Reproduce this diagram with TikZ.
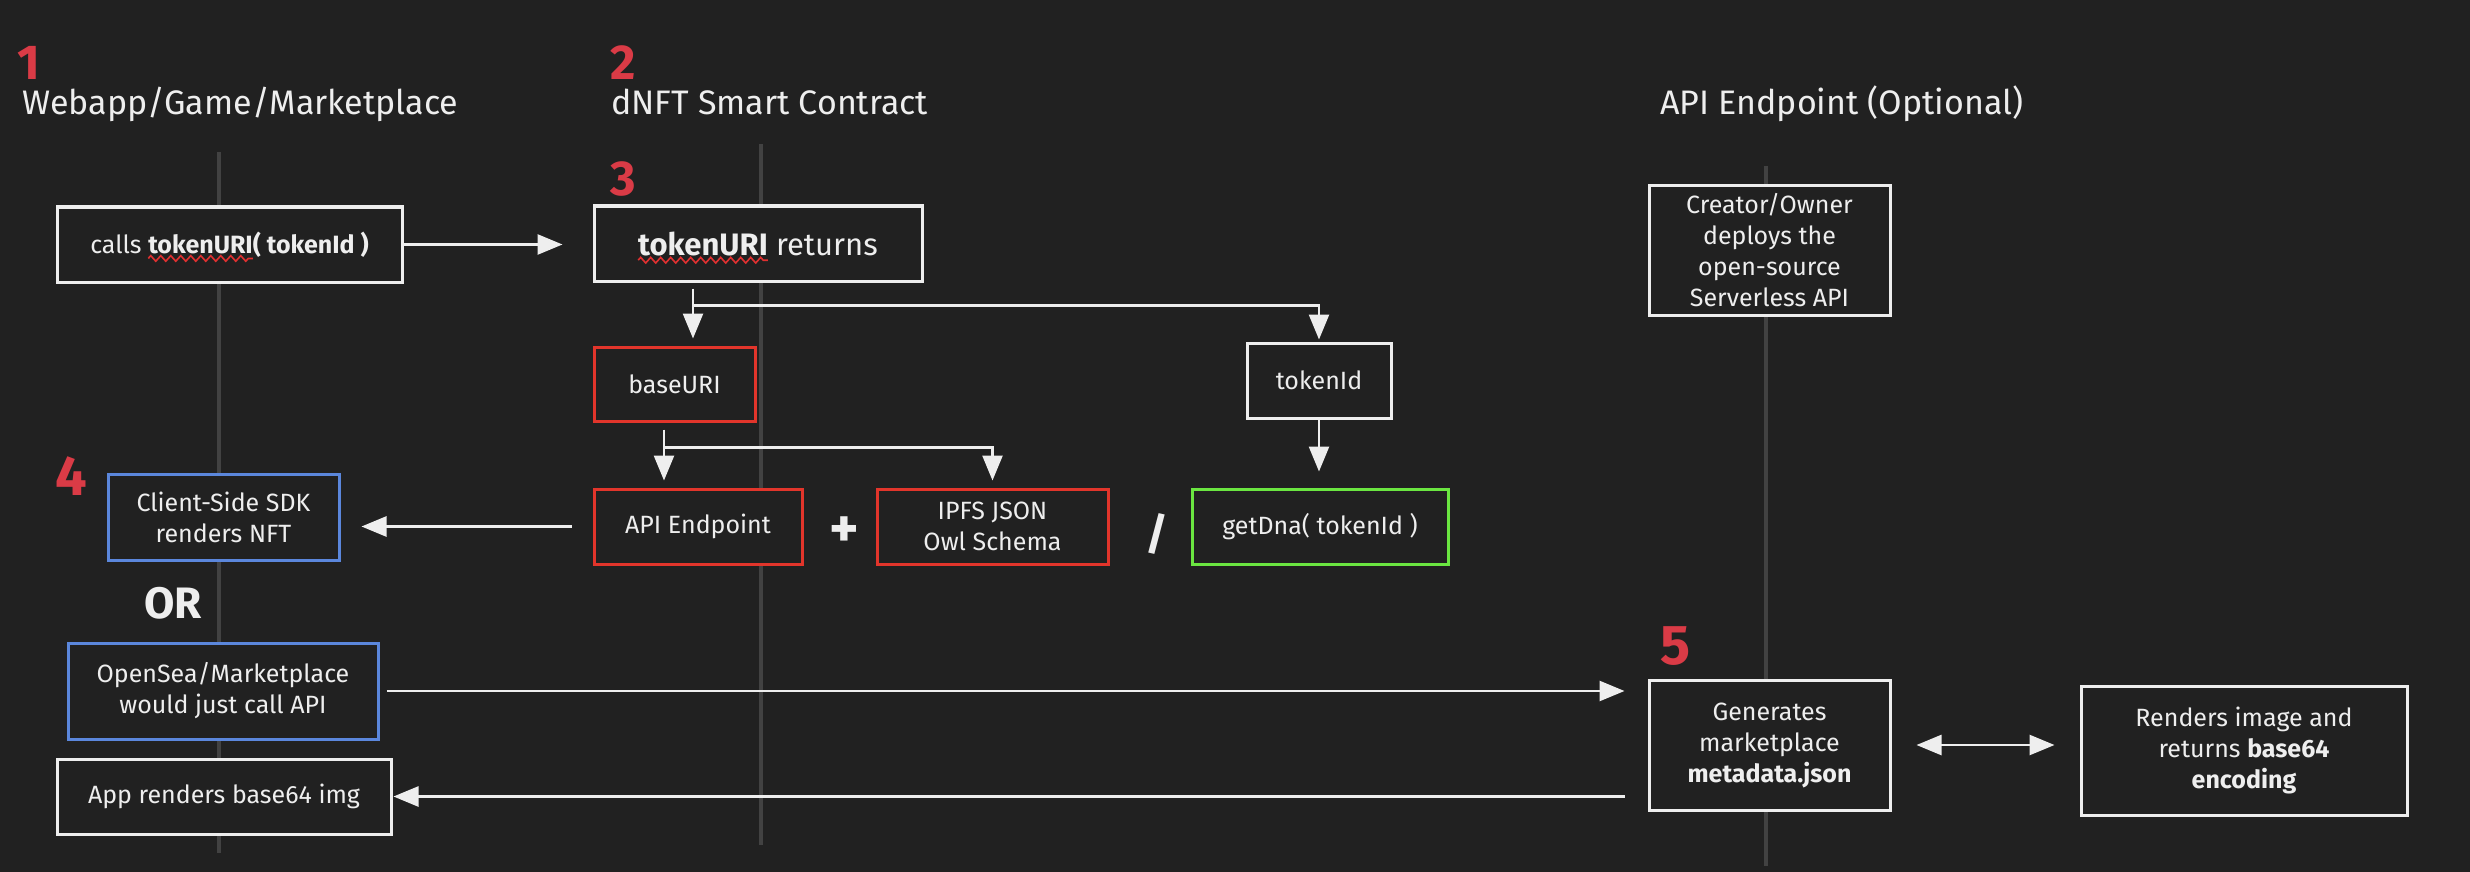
\documentclass[tikz,border=0pt]{standalone}
\usepackage{fontspec}
\setmainfont{Fira Sans}
\usetikzlibrary{arrows.meta,calc,decorations.pathmorphing}
\definecolor{bg}{HTML}{212121}
\definecolor{fg}{HTML}{EEEEEE}
\definecolor{lifecol}{HTML}{424242}
\definecolor{redbox}{HTML}{E2352B}
\definecolor{rednum}{HTML}{DA3B46}
\definecolor{greenbox}{HTML}{6BE641}
\definecolor{bluebox}{HTML}{5B87DC}
\definecolor{squigred}{HTML}{E03030}
\newlength\squigw
\newcommand\squig[1]{\settowidth\squigw{#1}\rlap{#1}\begin{tikzpicture}[baseline=0pt,x=1pt,y=1pt]\useasboundingbox (0,0) rectangle (\the\squigw,0);\draw[squigred,line width=0.8pt,decorate,decoration={zigzag,segment length=5pt,amplitude=1.4pt}] (0,-2.6) -- (\the\squigw,-2.6);\end{tikzpicture}}
\begin{document}
\begin{tikzpicture}[x=0.5pt,y=-0.5pt,
  box/.style={draw=fg, line width=1.5pt, fill=bg, text=fg, align=center, inner sep=0pt,
    font=\fontsize{12.5}{15.5}\selectfont},
  redb/.style={box, draw=redbox},
  greenb/.style={box, draw=greenbox},
  blueb/.style={box, draw=bluebox},
  sz/.style 2 args={minimum width={#1*0.5pt}, minimum height={#2*0.5pt}},
  arr/.style={color=fg, line width=1.3pt, -{Triangle[length=12.5pt,width=10pt]}},
  dbl/.style={color=fg, line width=1.3pt, {Triangle[length=12.5pt,width=10pt]}-{Triangle[length=12.5pt,width=10pt]}},
  life/.style={draw=lifecol, line width=2pt},
  title/.style={text=fg, anchor=base west, inner sep=0pt, font=\fontsize{17}{20}\selectfont},
  num/.style={text=rednum, anchor=base west, inner sep=0pt, font=\fontsize{24.5}{28}\selectfont\bfseries},
  bignum/.style={num, font=\fontsize{28}{32}\selectfont\bfseries},
  sym/.style={text=fg, inner sep=0pt, font=\fontsize{22}{26}\selectfont\bfseries}
]
\fill[bg] (0,0) rectangle (2470,872);
\useasboundingbox (0,0) rectangle (2470,872);

% lifelines
\draw[life] (219,152) -- (219,853);
\draw[life] (761,144) -- (761,845);
\draw[life] (1766,166) -- (1766,866);

% numbers and titles
\node[num] (n1) at (17,80) {1};
\node[num] (n2) at (610,80) {2};
\node[num] (n3) at (610,196) {3};
\node[bignum] (n4) at (55,495) {4};
\node[bignum] (n5) at (1660,664) {5};
\node[title] (t1) at (22,115) {Webapp/Game/Marketplace};
\node[title] (t2) at (611,115) {dNFT Smart Contract};
\node[title] (t3) at (1660,115) {API Endpoint (Optional)};

% boxes
\node[box, sz={345}{75}] (calls) at (229.5,244.5) {calls \textbf{\squig{tokenURI}( tokenId )}};
\node[box, sz={328}{75}, font=\fontsize{15.5}{18}\selectfont] (ret) at (758,243.5) {\textbf{\squig{tokenURI}} returns};
\node[redb, sz={161}{74}] (base) at (674.5,384) {baseURI};
\node[box, sz={144}{75}] (tok) at (1319,380.5) {tokenId};
\node[redb, sz={208}{75}] (api) at (698,526.5) {API Endpoint};
\node[redb, sz={231}{75}] (ipfs) at (992.5,526.5) {IPFS JSON\\Owl Schema};
\node[greenb, sz={256}{75}] (dna) at (1320,526.5) {getDna( tokenId )};
\node[sym, font=\fontsize{28}{30}\selectfont\bfseries] (plus) at (844,532) {+};
\node[sym] (slash) at (1157,534) {/};
\node[blueb, sz={231}{86}] (sdk) at (223.5,517) {Client-Side SDK\\renders NFT};
\node[sym] (or) at (173,603.5) {OR};
\node[blueb, sz={310}{96}] (open) at (223,691) {OpenSea/Marketplace\\would just call API};
\node[box, sz={334}{75}] (app) at (224,796.5) {App renders base64 img};
\node[box, sz={241}{129}] (creator) at (1769.5,250.5) {Creator/Owner\\deploys the\\open-source\\Serverless API};
\node[box, sz={241}{130}] (gen) at (1769.5,745) {Generates\\marketplace\\\textbf{metadata.json}};
\node[box, sz={326}{129}] (ren) at (2244,750.5) {Renders image and\\returns \textbf{base64}\\\textbf{encoding}};

% branch points
\coordinate (r1) at ($(ret.south)+(-65,6)$);
\coordinate (r2) at ($(ret.south)+(-65,23)$);
\coordinate (b1) at ($(base.south)+(-10.5,7)$);
\coordinate (b2) at ($(base.south)+(-10.5,25)$);

% connectors
\draw[arr, shorten >=15pt] (calls.east) -- (calls.east -| ret.west);
\draw[arr, shorten >=3.5pt] (r1) -- (r1 |- base.north);
\draw[arr, shorten >=1pt] (r2) -| (tok.north);
\draw[arr, shorten >=3.5pt] (b1) -- (b1 |- api.north);
\draw[arr, shorten >=3.5pt] (b2) -| (ipfs.north);
\draw[arr, shorten >=8pt] (tok.south) -- (tok.south |- dna.north);
\draw[arr, shorten <=10.5pt, shorten >=10.5pt] (api.west) -- (api.west -| sdk.east);
\draw[arr, shorten <=3.5pt, shorten >=11.5pt] (open.east) -- (open.east -| gen.west);
\draw[arr, shorten <=11.5pt, shorten >=0.5pt] (app.east -| gen.west) -- (app.east);
\draw[dbl, shorten <=12.5pt, shorten >=12.5pt] (gen.east) -- (gen.east -| ren.west);
\end{tikzpicture}
\end{document}
